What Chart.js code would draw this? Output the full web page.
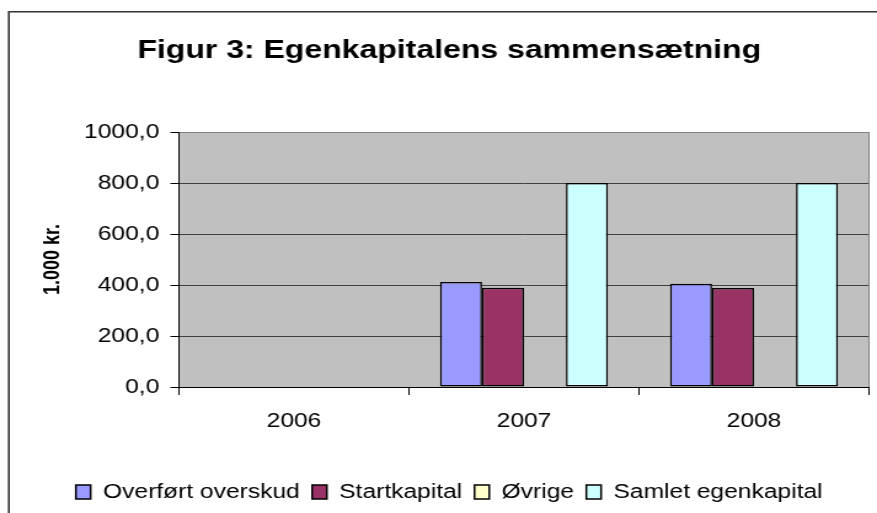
<!DOCTYPE html>
<html>
<head>
<meta charset="utf-8">
<script src="https://cdn.jsdelivr.net/npm/chart.js@4"></script>
<style>
  body { margin: 0; background: #fff; }
</style>
</head>
<body>
<canvas id="chart" width="713" height="513" style="display:block;width:877px;height:513px"></canvas>
<script>
// data (1.000 kr.)
const years = ['2006', '2007', '2008'];
const overfortOverskud = [0, 412, 405];
const startkapital = [0, 389, 388];
const ovrige = [0, 0, 0];
const samletEgenkapital = [0, 800, 800];

const FONT = '"Liberation Sans", Arial, sans-serif';

// grey plot area + outer frame like the Excel original
const excelFrame = {
    id: 'excelFrame',
    beforeDraw(chart) {
        const ctx = chart.ctx;
        const a = chart.chartArea;
        ctx.save();
        ctx.fillStyle = '#ffffff';
        ctx.fillRect(0, 0, chart.width, chart.height);
        ctx.fillStyle = '#c0c0c0';
        ctx.fillRect(a.left, a.top, a.right - a.left, a.bottom - a.top);
        ctx.restore();
    },
    afterDraw(chart) {
        const ctx = chart.ctx;
        const a = chart.chartArea;
        ctx.save();
        ctx.strokeStyle = '#808080';
        ctx.lineWidth = 1;
        ctx.beginPath();
        ctx.moveTo(a.right, a.top);
        ctx.lineTo(a.right, a.bottom);
        ctx.stroke();
        ctx.strokeStyle = '#333333';
        ctx.lineWidth = 1.6;
        ctx.beginPath();
        ctx.moveTo(7.2, chart.height);
        ctx.lineTo(7.2, 11.8);
        ctx.lineTo(chart.width, 11.8);
        ctx.stroke();
        ctx.restore();
    }
};

function makeSet(label, data, color) {
    return {
        label: label,
        data: data,
        backgroundColor: color,
        borderColor: '#000000',
        borderWidth: 1.5,
        borderSkipped: false,
        categoryPercentage: 0.73,
        barPercentage: 1.0
    };
}

new Chart(document.getElementById('chart'), {
    type: 'bar',
    data: {
        labels: years,
        datasets: [
            makeSet('Overført overskud', overfortOverskud, '#9999ff'),
            makeSet('Startkapital', startkapital, '#993366'),
            makeSet('Øvrige', ovrige, '#ffffcc'),
            makeSet('Samlet egenkapital', samletEgenkapital, '#ccffff')
        ]
    },
    options: {
        responsive: false,
        devicePixelRatio: 1,
        animation: false,
        layout: {
            padding: { left: 24, right: 6.5, top: 0, bottom: 1 }
        },
        plugins: {
            tooltip: { enabled: false },
            title: {
                display: true,
                text: 'Figur 3: Egenkapitalens sammensætning',
                color: '#000',
                font: { family: FONT, size: 26, weight: 'bold' },
                padding: { top: 35.4, bottom: 65.4 }
            },
            legend: {
                position: 'bottom',
                labels: {
                    color: '#000',
                    font: { family: FONT, size: 20 },
                    boxWidth: 12,
                    boxHeight: 14,
                    padding: 10
                }
            }
        },
        scales: {
            x: {
                afterFit(scale) { scale.height = 85; },
                grid: {
                    offset: true,
                    drawOnChartArea: false,
                    tickLength: 8,
                    tickColor: '#000'
                },
                border: { color: '#000', width: 1 },
                ticks: {
                    color: '#000',
                    padding: 14.5,
                    font: { family: FONT, size: 20 }
                }
            },
            y: {
                min: 0,
                max: 1000,
                afterFit(scale) { scale.width = 121.5; },
                grid: {
                    color: ctx => (ctx.tick && ctx.tick.value === 1000) ? '#808080' : '#404040',
                    tickColor: '#000',
                    tickLength: 7
                },
                border: { color: '#000', width: 1 },
                ticks: {
                    stepSize: 200,
                    color: '#000',
                    padding: 9,
                    font: { family: FONT, size: 20 },
                    callback: v => v.toFixed(1).replace('.', ',')
                },
                title: {
                    display: true,
                    text: '1.000 kr.',
                    color: '#000',
                    font: { family: FONT, size: 18, weight: 'bold' },
                    padding: { top: 8, bottom: 0 }
                }
            }
        }
    },
    plugins: [excelFrame]
});
</script>
</body>
</html>
